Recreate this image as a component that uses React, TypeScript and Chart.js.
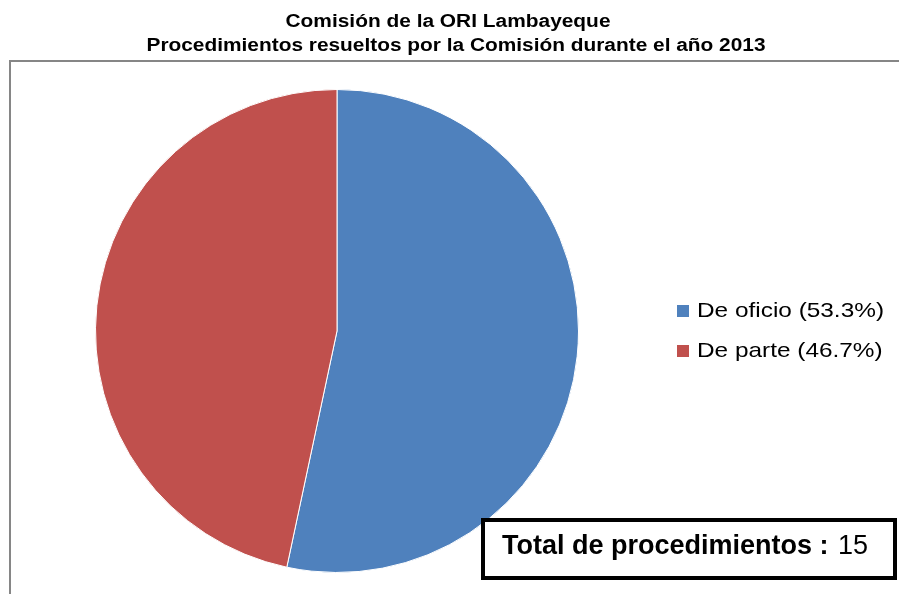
import React, { useEffect, useRef } from "react";
import { Chart, registerables } from "chart.js";

Chart.register(...registerables);

const titleLines = [
  "Comisión de la ORI Lambayeque",
  "Procedimientos resueltos por la Comisión durante el año 2013",
];
const categories = ["De oficio", "De parte"];
const values = [8, 7];
const colors = ["#4F81BD", "#C0504D"];
const totalLabel = "Total de procedimientos : ";
const totalValue = "15";

const FONT = '"Liberation Sans", Arial, sans-serif';

const total = values.reduce((a, b) => a + b, 0);
const legendLabels = categories.map(
  (c, i) => `${c} (${((values[i] / total) * 100).toFixed(1)}%)`
);

function fitText(ctx: CanvasRenderingContext2D, text: string, x: number, y: number, width: number, align: "left" | "center") {
  const m = ctx.measureText(text).width;
  const sx = width / m;
  ctx.save();
  ctx.textAlign = "left";
  ctx.translate(align === "center" ? x - width / 2 : x, y);
  ctx.scale(sx, 1);
  ctx.fillText(text, 0, 0);
  ctx.restore();
  return sx;
}

const decorPlugin = {
  id: "decor",
  beforeDraw(chart: any) {
    const ctx = chart.ctx;
    ctx.save();
    ctx.strokeStyle = "#868686";
    ctx.lineWidth = 2;
    ctx.beginPath();
    ctx.moveTo(10, chart.height + 5);
    ctx.lineTo(10, 61);
    ctx.lineTo(chart.width + 5, 61);
    ctx.stroke();
    ctx.restore();
  },
  afterDraw(chart: any) {
    const ctx = chart.ctx;
    ctx.save();
    // title
    ctx.fillStyle = "#000";
    ctx.textBaseline = "alphabetic";
    ctx.font = `bold 18px ${FONT}`;
    fitText(ctx, titleLines[0], 448, 27, 325, "center");
    fitText(ctx, titleLines[1], 456, 51, 619, "center");

    // legend
    ctx.font = `21px ${FONT}`;
    const sx = 187 / ctx.measureText(legendLabels[0]).width;
    legendLabels.forEach((t, i) => {
      const y = 305 + i * 40;
      ctx.fillStyle = colors[i];
      ctx.fillRect(677, y, 12, 12);
      ctx.fillStyle = "#000";
      const w = ctx.measureText(t).width * sx;
      fitText(ctx, t, 697, y + 12, w, "left");
    });

    // total box
    ctx.fillStyle = "#fff";
    ctx.fillRect(483, 520, 412, 58);
    ctx.strokeStyle = "#000";
    ctx.lineWidth = 4;
    ctx.strokeRect(483, 520, 412, 58);
    ctx.fillStyle = "#000";
    ctx.textAlign = "left";
    ctx.font = `bold 27px ${FONT}`;
    ctx.fillText(totalLabel, 502, 554);
    const w = ctx.measureText(totalLabel).width;
    ctx.font = `27px ${FONT}`;
    ctx.fillText(totalValue, 504 + w, 554);
    ctx.restore();
  },
};

export default function App() {
  const ref = useRef<HTMLCanvasElement | null>(null);
  useEffect(() => {
    if (!ref.current) return;
    const chart = new Chart(ref.current, {
      type: "pie",
      data: {
        labels: categories,
        datasets: [
          {
            data: values,
            backgroundColor: colors,
            borderColor: "#ffffff",
            borderWidth: 1,
          },
        ],
      },
      options: {
        responsive: false,
        animation: false,
        layout: { padding: { left: 95, right: 320, top: 89, bottom: 21 } },
        plugins: {
          legend: { display: false },
          title: { display: false },
          tooltip: { enabled: false },
        },
      },
      plugins: [decorPlugin],
    });
    return () => chart.destroy();
  }, []);
  return (
    <div style={{ position: "absolute", left: 0, top: 0, width: 899, height: 594, background: "#fff" }}>
      <canvas ref={ref} width={899} height={594} style={{ display: "block" }} />
    </div>
  );
}
